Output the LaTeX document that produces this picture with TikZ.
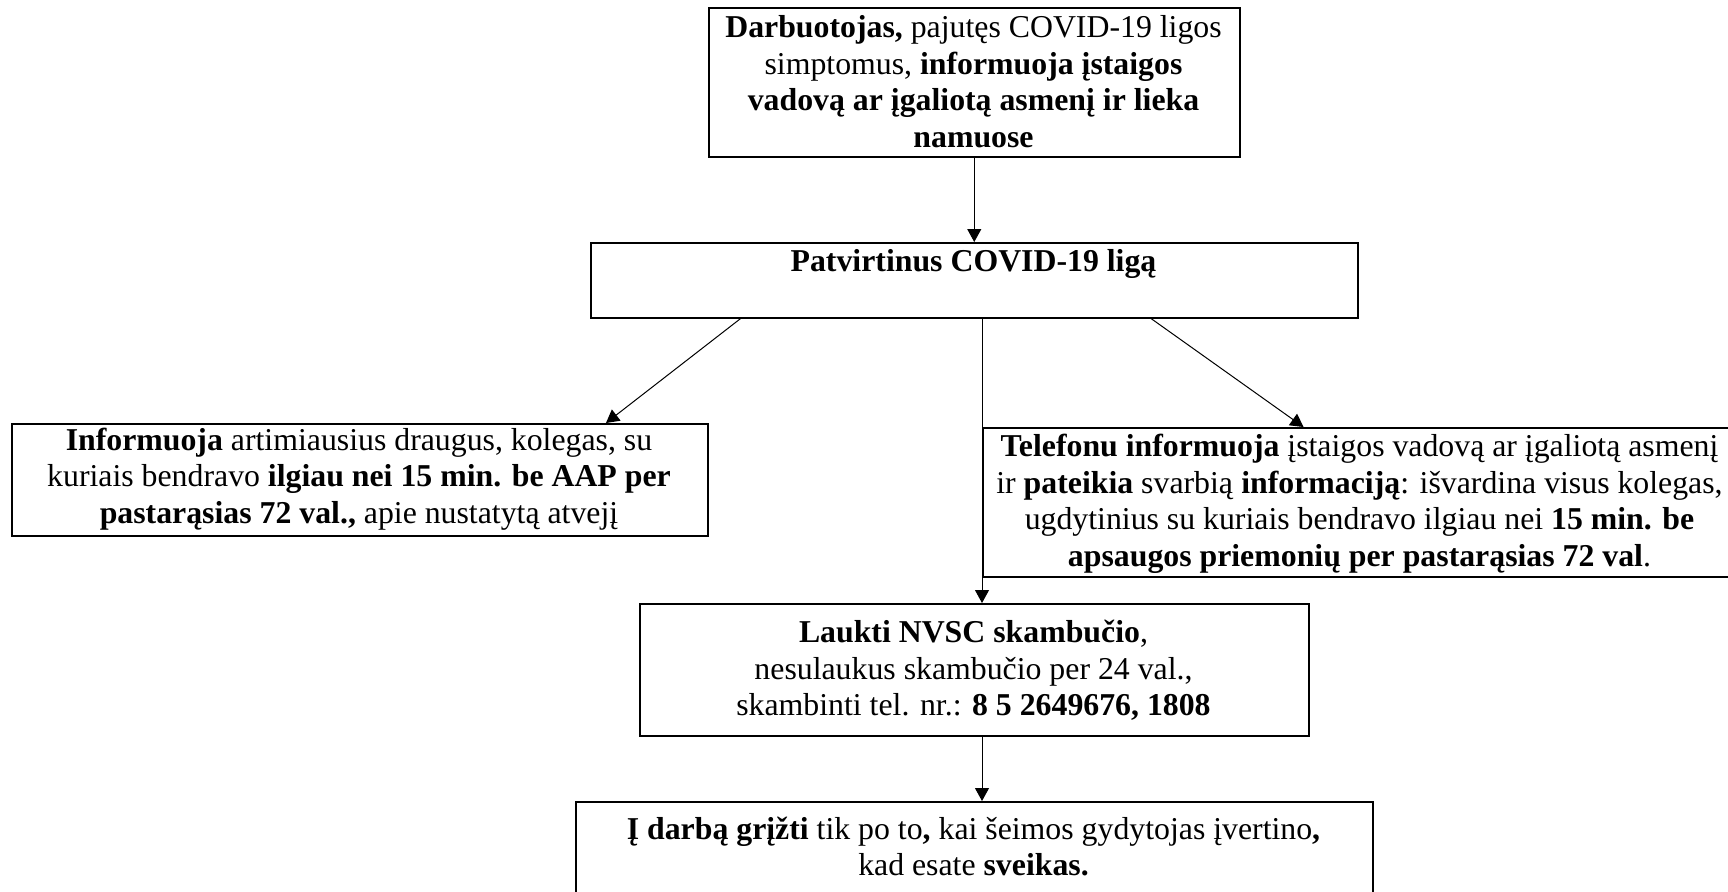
\documentclass[tikz,border=0pt]{standalone}
\usepackage{fontspec}
\setmainfont{Liberation Serif}
\usetikzlibrary{arrows.meta,calc}
\begin{document}
\begin{tikzpicture}[x=0.5pt,y=-0.5pt,
  box/.style={draw, line width=0.75pt, inner sep=0pt, anchor=north west},
  txt/.style={anchor=base, align=center, inner sep=0pt, font=\fontsize{15.9pt}{18.2pt}\selectfont},
  conn/.style={line width=0.5pt, -{Triangle[length=6.5pt,width=7pt]}}]
\clip (0,0) rectangle (1728,891);
% boxes
\node[box, minimum width=265.5pt, minimum height=74.5pt] (top) at (708,7) {};
\node[box, minimum width=383.5pt, minimum height=37.5pt] (pat) at (590,242) {};
\node[box, minimum width=348pt, minimum height=56pt] (left) at (11,423) {};
\node[box, minimum width=377.5pt, minimum height=74.5pt] (right) at (982,427) {};
\node[box, minimum width=334.5pt, minimum height=66pt] (laukti) at (639,603) {};
\node[box, minimum width=398.5pt, minimum height=49.5pt] (last) at (575,801) {};
% texts (anchored at the baseline of their last line)
\node[txt] (topT) at (973.5,147) {\textbf{Darbuotojas,} pajutęs COVID-19 ligos\\
simptomus, \textbf{informuoja įstaigos}\\
\textbf{vadovą ar įgaliotą asmenį ir lieka}\\
\textbf{namuose}};
\node[txt] (patT) at (973.5,271.7) {\textbf{Patvirtinus COVID-19 ligą}};
\node[txt] (leftT) at (359,523) {\textbf{Informuoja} artimiausius draugus, kolegas, su\\
kuriais bendravo \textbf{ilgiau nei 15 min. be AAP per}\\
\textbf{pastarąsias 72 val.,} apie nustatytą atvejį};
\node[txt] (rightT) at (1359.5,566) {\textbf{Telefonu informuoja} įstaigos vadovą ar įgaliotą asmenį\\
ir \textbf{pateikia} svarbią \textbf{informaciją}: išvardina visus kolegas,\\
ugdytinius su kuriais bendravo ilgiau nei \textbf{15 min. be}\\
\textbf{apsaugos priemonių per pastarąsias 72 val}.};
\node[txt] (lauktiT) at (973.5,715.5) {\textbf{Laukti NVSC skambučio},\\
nesulaukus skambučio per 24 val.,\\
skambinti tel. nr.: \textbf{8 5 2649676, 1808}};
\node[txt] (lastT) at (973.5,875.6) {\textbf{Į darbą grįžti} tik po to\textbf{,} kai šeimos gydytojas įvertino\textbf{,}\\
kad esate \textbf{sveikas.}};
% connectors
\draw[conn] (top.south) -- (pat.north);
\draw[conn] ($(pat.south west)!0.196!(pat.south east)$) -- ($(left.north west)!0.853!(left.north east)$);
\draw[conn] (pat.south -| right.west) -- (laukti.north -| right.west);
\draw[conn] ($(pat.south west)!0.730!(pat.south east)$) -- ($(right.north west)!0.425!(right.north east)$);
\draw[conn] (laukti.south -| right.west) -- (last.north -| right.west);
\end{tikzpicture}
\end{document}
